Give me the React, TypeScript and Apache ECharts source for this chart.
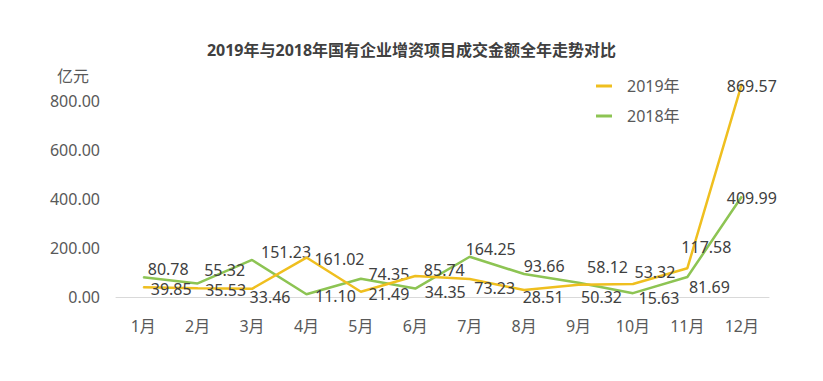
import React, { useEffect, useRef } from "react";
import * as echarts from "echarts";

const titleText = "2019年与2018年国有企业增资项目成交金额全年走势对比";
const months = ["1月", "2月", "3月", "4月", "5月", "6月", "7月", "8月", "9月", "10月", "11月", "12月"];
const seriesNames = ["2019年", "2018年"];
const values2019 = [39.85, 35.53, 33.46, 161.02, 21.49, 85.74, 73.23, 28.51, 50.32, 53.32, 117.58, 869.57];
const values2018 = [80.78, 55.32, 151.23, 11.1, 74.35, 34.35, 164.25, 93.66, 58.12, 15.63, 81.69, 409.99];
const yTicks = [0, 200, 400, 600, 800];

// label offsets (relative to the point)
const offsets2019: [number, number][] = [
  [28, 2], [28, 2], [18, 8], [33, 1], [28, 2], [29, -6], [25, 9], [19, 7], [23, 12], [22, -12], [19, -21], [10, 2],
];
const offsets2018: [number, number][] = [
  [25, -8], [27, -13], [34, -8], [29, 2], [28, -5], [30, 3], [21, -8], [20, -8], [29, -16], [26, 5], [22, 10], [10, 1],
];

const FONT = "'Noto Sans', 'Noto Sans CJK SC', sans-serif";
const YELLOW = "#EFBF1F";
const GREEN = "#8DC453";

function build(values: number[], offs: [number, number][]) {
  return values.map((v, i) => ({
    value: v,
    label: { offset: offs[i] },
  }));
}

export default function App() {
  const ref = useRef<HTMLDivElement>(null);
  useEffect(() => {
    if (!ref.current) return;
    const chart = echarts.init(ref.current, null, { renderer: "svg" });
    const labelCommon = {
      show: true,
      position: "inside" as const,
      align: "center",
      verticalAlign: "middle",
      color: "#404040",
      fontSize: 16,
      lineHeight: 15,
      fontFamily: FONT,
      formatter: (p: any) => Number(p.value).toFixed(2),
    };
    chart.setOption({
      animation: false,
      backgroundColor: "#ffffff",
      textStyle: { fontFamily: FONT },
      title: {
        text: titleText,
        left: "center",
        top: 37,
        textStyle: { fontSize: 16, fontWeight: "bold", color: "#404040", fontFamily: FONT },
      },
      legend: {
        orient: "vertical",
        left: 591,
        top: 73,
        itemWidth: 16,
        itemHeight: 3,
        itemGap: 14,
        icon: "rect",
        data: seriesNames,
        textStyle: { fontSize: 16, color: "#595959", fontFamily: FONT, padding: [0, 0, 0, 10] },
      },
      grid: { left: 116, right: 54, top: 76.5, bottom: 84, containLabel: false },
      xAxis: {
        type: "category",
        data: months,
        boundaryGap: true,
        axisTick: { show: false },
        axisLine: { lineStyle: { color: "#D9D9D9", width: 1 } },
        axisLabel: { color: "#595959", fontSize: 16, margin: 21, fontFamily: FONT },
      },
      yAxis: {
        type: "value",
        min: 0,
        max: 900,
        interval: 200,
        name: "亿元",
        nameLocation: "end",
        nameGap: 1,
        nameTextStyle: {
          color: "#595959",
          fontSize: 16,
          align: "right",
          verticalAlign: "middle",
          padding: [0, 27, 0, 0],
          fontFamily: FONT,
        },
        axisLine: { show: false },
        axisTick: { show: false },
        splitLine: { show: false },
        axisLabel: {
          color: "#595959",
          fontSize: 16,
          margin: 16,
          fontFamily: FONT,
          formatter: (v: number) => (yTicks.indexOf(v) >= 0 ? v.toFixed(2) : ""),
        },
      },
      series: [
        {
          name: seriesNames[0],
          type: "line",
          data: build(values2019, offsets2019),
          symbol: "circle",
          symbolSize: 1,
          color: YELLOW,
          lineStyle: { color: YELLOW, width: 2.5 },
          itemStyle: { color: YELLOW },
          label: labelCommon,
          z: 3,
        },
        {
          name: seriesNames[1],
          type: "line",
          data: build(values2018, offsets2018),
          symbol: "circle",
          symbolSize: 1,
          color: GREEN,
          lineStyle: { color: GREEN, width: 2.5 },
          itemStyle: { color: GREEN },
          label: labelCommon,
          z: 2,
        },
      ],
    });
    return () => chart.dispose();
  }, []);
  return <div ref={ref} style={{ position: "fixed", left: 0, top: 0, width: 823, height: 381 }} />;
}
